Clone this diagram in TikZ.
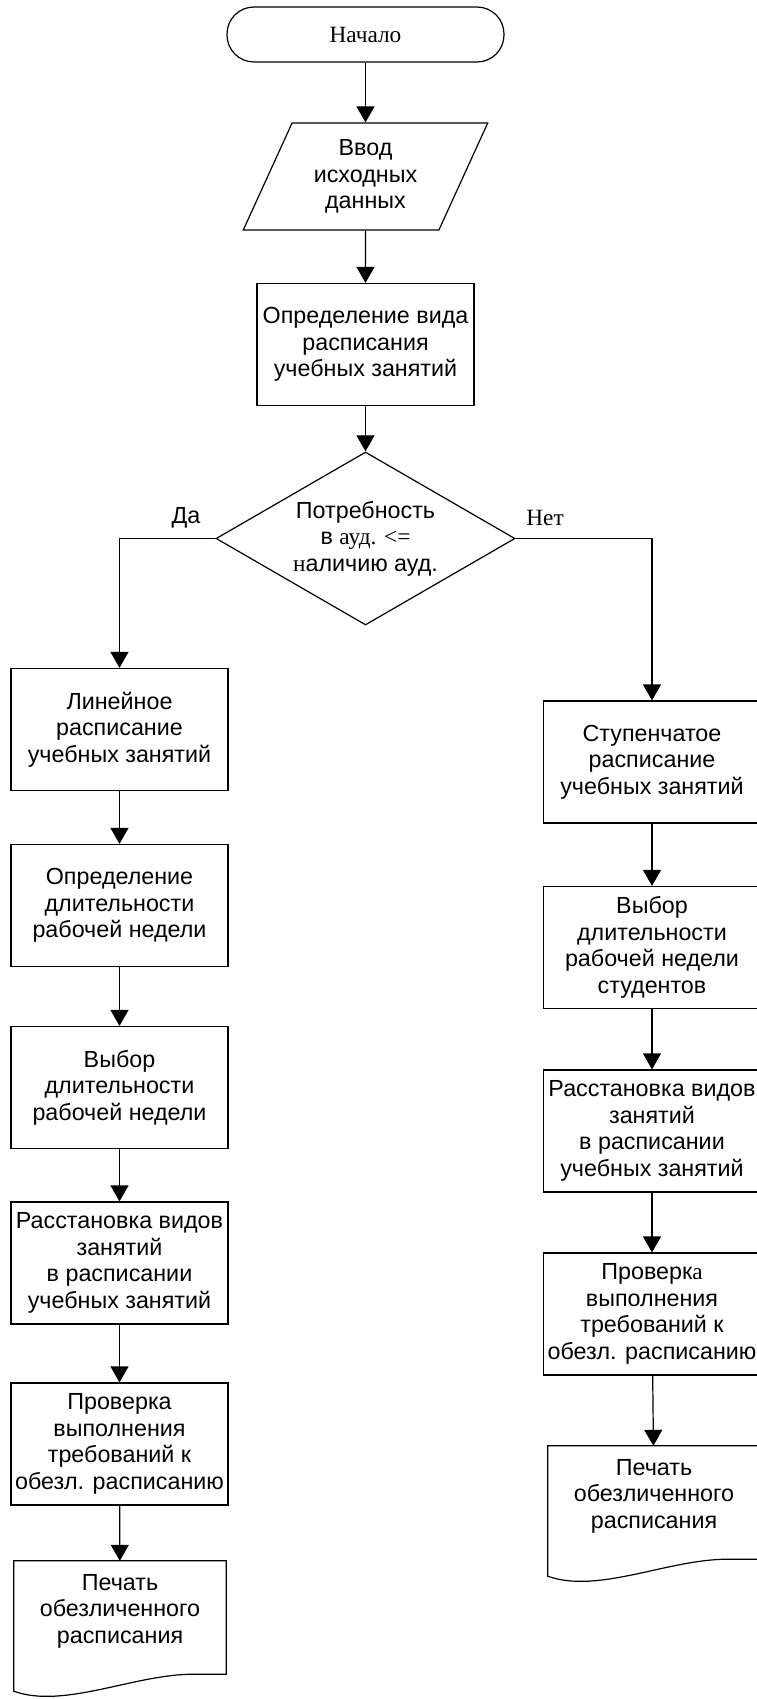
\documentclass[tikz,border=0pt]{standalone}
\usepackage{fontspec}
\setmainfont{Liberation Sans}
\newfontfamily\tnr{Liberation Serif}
\usepackage{tikz}
\usetikzlibrary{arrows.meta,shapes.geometric}

\tikzset{
  block/.style={draw, line width=1.2pt, minimum width=217pt, minimum height=122pt,
    inner sep=0pt, align=center},
  doc/.style={minimum width=212pt, minimum height=100pt, inner sep=0pt, align=center},
  term/.style={draw, line width=1.2pt, rounded corners=27pt, minimum width=277pt,
    minimum height=55pt},
  io/.style={draw, line width=1.2pt, trapezium, trapezium left angle=65,
    trapezium right angle=115, trapezium stretches=true, minimum width=245pt,
    minimum height=107pt, inner sep=0pt, align=center},
  cond/.style={draw, line width=1.2pt, diamond, aspect=1.73, inner sep=0pt,
    minimum width=299pt, minimum height=173pt, align=center},
  arr/.style={line width=1.2pt, -{Triangle[length=16pt, width=18pt]}},
  ln/.style={line width=1.2pt}
}

\begin{document}
\begin{tikzpicture}[x=1pt, y=-1pt, font=\fontsize{23.3}{26.5}\selectfont]

\useasboundingbox (0,0) rectangle (757,1699);

\node[term]  (start) at (365.5,34.5)  {{\tnr Начало}};
\node[io]    (input) at (365.5,176.5) {Ввод\\исходных\\данных};
\node[block] (kind)  at (365.5,344.5) {Определение вида\\расписания\\учебных занятий};
\node[cond]  (check) at (365.5,538.5) {Потребность\\в {\tnr ауд. <=}\\{\tnr н}аличию ауд.};

\node (yes) at (186,518) {Да};
\node (no)  at (545,518) {{\tnr Нет}};

\node[block] (lin)  at (119.5,729.5)  {Линейное\\расписание\\учебных занятий};
\node[block] (ldur) at (119.5,905.5)  {Определение\\длительности\\рабочей недели};
\node[block] (lsel) at (119.5,1087.5) {Выбор\\длительности\\рабочей недели};
\node[block] (lput) at (119.5,1263)   {Расстановка видов\\занятий\\в расписании\\учебных занятий};
\node[block] (lver) at (119.5,1444)   {Проверка\\выполнения\\требований к\\обезл. расписанию};
\node[doc]   (lprn) at (120,1611)     {Печать\\обезличенного\\расписания};

\node[block] (stp)  at (652,762)    {Ступенчатое\\расписание\\учебных занятий};
\node[block] (rsel) at (652,947.5)  {Выбор\\длительности\\рабочей недели\\студентов};
\node[block] (rput) at (652,1131)   {Расстановка видов\\занятий\\в расписании\\учебных занятий};
\node[block] (rver) at (652,1314)   {Проверк{\tnr а}\\выполнения\\требований к\\обезл. расписанию};
\node[doc]   (rprn) at (654,1496)   {Печать\\обезличенного\\расписания};

\foreach \d in {lprn,rprn}
  \draw[ln] (\d.north west) -- (\d.north east) -- ([yshift=-13pt]\d.south east)
    -- ++(-33,0) .. controls +(-59,0) and +(50,18) .. ([yshift=-30pt]\d.south west)
    -- cycle;

\draw[arr] (start) -- (input);
\draw[arr] (input) -- (kind);
\draw[arr] (kind) -- (check);
\draw[arr] (check.west) -| (lin.north);
\draw[arr] (check.east) -| (stp.north);

\draw[arr] (lin) -- (ldur);
\draw[arr] (ldur) -- (lsel);
\draw[arr] (lsel) -- (lput);
\draw[arr] (lput) -- (lver);
\draw[arr] (lver) -- (lprn);

\draw[arr] (stp) -- (rsel);
\draw[arr] (rsel) -- (rput);
\draw[arr] (rput) -- (rver);
\draw[arr] (rver) -- (rprn);

\end{tikzpicture}
\end{document}
